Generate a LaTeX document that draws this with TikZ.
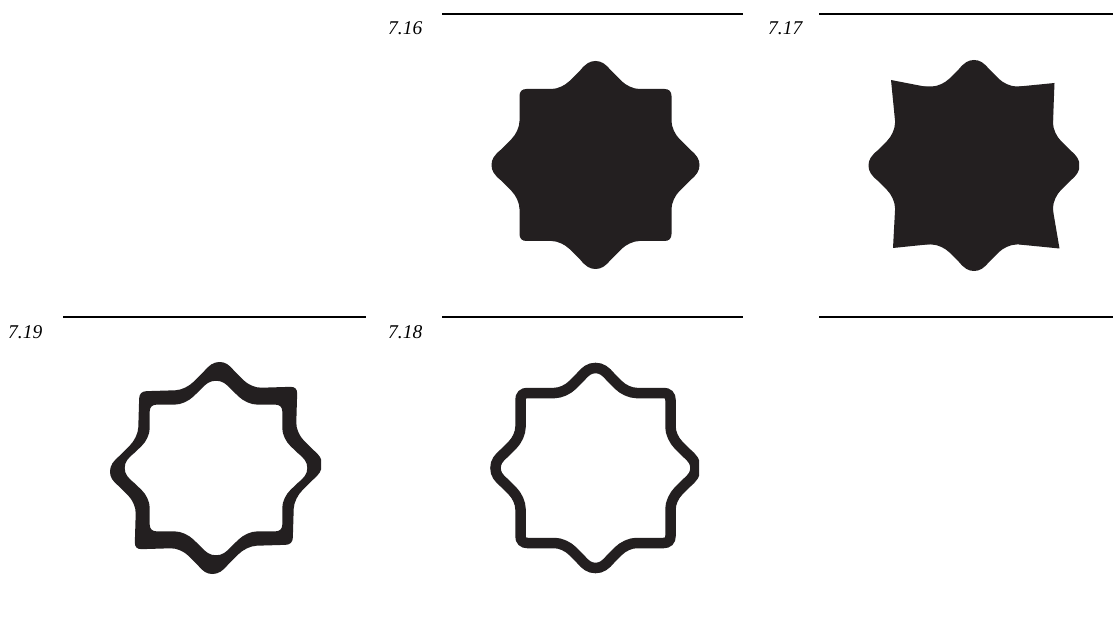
\documentclass[tikz,border=0pt]{standalone}
\usepackage{fontspec}
\newfontfamily\labfont{Liberation Serif}
\definecolor{ink}{RGB}{35,31,32}
% #1 extra transform, #2 half side of square, #3 tip radius
\newcommand\octpath[3]{([#1]0,#3) \foreach \ang in {0,-90,-180,-270}{
 .. controls ([#1,rotate=\ang]6,#3) and ([#1,rotate=\ang]10,{#3-3}) .. ([#1,rotate=\ang]15,{#3-9})
 -- ([#1,rotate=\ang]{#3+6-#2-8},{#2+8})
 .. controls ([#1,rotate=\ang]{#3+6-#2-3.5},{#2+3.5}) and ([#1,rotate=\ang]{#3+6-#2+4},#2) .. ([#1,rotate=\ang]{#3+6-#2+10},#2)
 -- ([#1,rotate=\ang]{#2-7},#2)
 .. controls ([#1,rotate=\ang]{#2-2.5},#2) and ([#1,rotate=\ang]#2,{#2-2.5}) .. ([#1,rotate=\ang]#2,{#2-7})
 -- ([#1,rotate=\ang]#2,{#3+6-#2+10})
 .. controls ([#1,rotate=\ang]#2,{#3+6-#2+4}) and ([#1,rotate=\ang]{#2+3.5},{#3+6-#2-3.5}) .. ([#1,rotate=\ang]{#2+8},{#3+6-#2-8})
 -- ([#1,rotate=\ang]{#3-9},15)
 .. controls ([#1,rotate=\ang]{#3-3},10) and ([#1,rotate=\ang]#3,6) .. ([#1,rotate=\ang]#3,0)
 } -- cycle}
\begin{document}
\begin{tikzpicture}[x=1pt,y=-1pt,
  lab/.style={font=\labfont\fontsize{19.5}{23}\selectfont\itshape, inner sep=0pt, anchor=base west, text=black},
  rulel/.style={line width=2.3pt, black},
  shp/.style={ink}]
\path[fill=white] (0,0) rectangle (1113,617);
\useasboundingbox (0,0) rectangle (1113,617);

% rules
\coordinate (r1a) at (442,14);  \coordinate (r1b) at (743,14);
\coordinate (r2a) at (819,14);  \coordinate (r2b) at (1113,14);
\coordinate (r3a) at (63,317);  \coordinate (r3b) at (366,317);
\coordinate (r4a) at (442,317); \coordinate (r4b) at (743,317);
\coordinate (r5a) at (819,317); \coordinate (r5b) at (1113,317);
\draw[rulel] (r1a) -- (r1b);
\draw[rulel] (r2a) -- (r2b);
\draw[rulel] (r3a) -- (r3b);
\draw[rulel] (r4a) -- (r4b);
\draw[rulel] (r5a) -- (r5b);

% labels
\node[lab] (l716) at (388,35) {7.16};
\node[lab] (l717) at (768,35) {7.17};
\node[lab] (l719) at (8,338) {7.19};
\node[lab] (l718) at (388,338) {7.18};

% 7.16
\begin{scope}
\clip (440,40) rectangle (699.5,290);
\begin{scope}[shift={(595.5,165)}, y=1pt]
\fill[shp] \octpath{shift={(0,0)}}{76}{104};
\end{scope}
\end{scope}

% 7.17
\begin{scope}
\clip (820,40) rectangle (1079,290);
\begin{scope}[shift={(974,165.5)}, y=1pt]
\fill[shp] \octpath{shift={(0,0)}}{79}{105.5};
\fill[ink] (-83,85.5) -- (-47,78.5) -- (-79,45) -- cycle;
\fill[ink] (80.5,82.5) -- (79,45) -- (45,79) -- cycle;
\fill[ink] (-81,-82.5) -- (-42,-78.5) -- (-79,-45) -- cycle;
\fill[ink] (85.5,-83) -- (79,-45) -- (45,-79) -- cycle;
\end{scope}
\end{scope}

% 7.19
\begin{scope}
\clip (60,340) rectangle (321,600);
\begin{scope}[shift={(216,468)}, y=1pt]
\fill[shp, even odd rule] \octpath{cm={1,0.03,0.03,1,(0,0)}}{79}{106}
  \octpath{xscale=1.02,yscale=0.975}{65}{89.5};
\end{scope}
\end{scope}

% 7.18
\begin{scope}
\clip (440,340) rectangle (699,600);
\begin{scope}[shift={(595.5,468)}, y=1pt]
\draw[shp, line width=10.5pt] \octpath{shift={(0,0)}}{75}{100};
\end{scope}
\end{scope}
\end{tikzpicture}
\end{document}
